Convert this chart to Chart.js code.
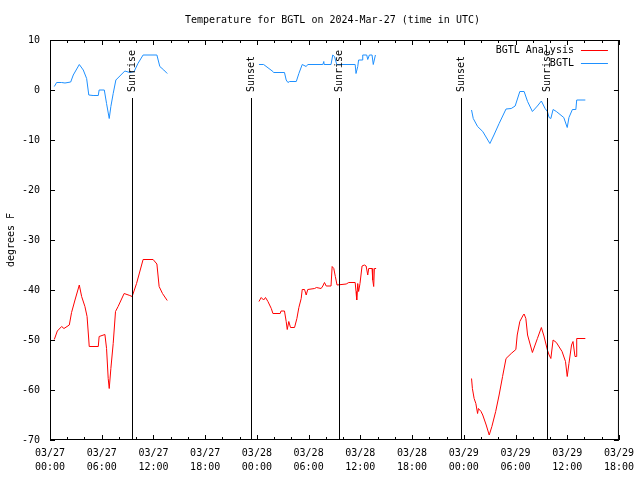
<!DOCTYPE html>
<html>
<head>
<meta charset="utf-8">
<script src="https://cdn.jsdelivr.net/npm/chart.js@4.4.1/dist/chart.umd.min.js"></script>
<style>
  html, body { margin: 0; padding: 0; background: #fff; }
  canvas { display: block; }
</style>
</head>
<body>
<canvas id="tempChart" width="640" height="480"></canvas>
<script>
// x values are hours since 03/27 00:00 UTC
const tickDates = ['03/27', '03/27', '03/27', '03/27', '03/28', '03/28', '03/28', '03/28', '03/29', '03/29', '03/29', '03/29'];
const tickTimes = ['00:00', '06:00', '12:00', '18:00', '00:00', '06:00', '12:00', '18:00', '00:00', '06:00', '12:00', '18:00'];

const eventHours = [9.53, 23.35, 33.58, 47.67, 57.7];
const eventLabels = ['Sunrise', 'Sunset', 'Sunrise', 'Sunset', 'Sunrise'];

// BGTL Analysis (red), null = missing data
const analysisHours = [
  0.5, 0.85, 1.35, 1.62, 2.24, 2.5, 2.9, 3.4, 3.67, 4.05, 4.3, 4.5, 4.55, 5.6, 5.7, 6.37, 6.56, 6.75, 6.87, 7.06,
  7.33, 7.6, 7.9, 8.6, 9.26, 9.53, 10.04, 10.8, 11.96, 12.4, 12.66, 13.05, 13.6,
  18,
  24.24, 24.5, 24.78, 25, 25.28, 25.67, 25.86, 26.7, 26.8, 27.2, 27.4, 27.52, 27.7, 27.9, 28.37, 28.64, 28.87,
  29.14, 29.26, 29.53, 29.72, 29.9, 30.7, 30.9, 31.45, 31.65, 31.84, 32.04, 32.6, 32.73, 32.92, 33.1, 33.3,
  34.36, 34.66, 35.4, 35.5, 35.58, 35.7, 35.8, 35.96, 36.2, 36.47, 36.67, 36.86, 36.97, 37.36, 37.44, 37.55,
  37.63, 37.83,
  43,
  48.9, 49.0, 49.2, 49.4, 49.6, 49.7, 50, 50.2, 50.6, 50.95, 51.26, 51.7, 52.1, 52.5, 52.9, 53.5, 54.04, 54.2,
  54.5, 54.9, 55, 55.2, 55.4, 55.96, 56.54, 57, 57.3, 57.7, 57.9, 58.1, 58.36, 58.74, 59.4, 59.8, 60, 60.2,
  60.5, 60.67, 60.9, 61.06, 61.1, 62.1
];
const analysisTemps = [
  -49.9, -48.2, -47.3, -47.7, -47, -44.5, -42, -39, -41.3, -43.3, -45.3, -50, -51.3, -51.3, -49.3, -48.9, -51.7, -57.7, -59.7, -55.7,
  -50.7, -44.3, -43.3, -40.7, -41.1, -41.3, -38.7, -33.9, -33.9, -34.8, -39.3, -40.7, -42.1,
  null,
  -42.3, -41.5, -42, -41.5, -42.3, -43.7, -44.7, -44.7, -44.2, -44.2, -46.3, -47.9, -46.3, -47.5, -47.5, -45.7, -43.5,
  -41.7, -39.9, -39.9, -41, -39.9, -39.7, -39.5, -39.7, -39.2, -38.5, -39.2, -39.2, -35.3, -35.7, -37.3, -39,
  -38.8, -38.5, -38.5, -40.3, -42, -38.7, -40.3, -38.7, -35.2, -35, -35.2, -37, -35.7, -35.7, -38, -39.3,
  -35.7, -35.7,
  null,
  -57.7, -59.7, -61.7, -62.7, -64.7, -63.7, -64.3, -65, -67, -69, -67.3, -64.3, -61, -57.3, -53.7, -52.7, -51.9, -49,
  -46.3, -45, -44.8, -45.7, -49, -52.5, -49.7, -47.5, -49.2, -52, -53, -53.7, -50, -50.5, -52.3, -54.3, -57.3, -54.7,
  -51, -50.3, -53.3, -53.3, -49.7, -49.7
];

// BGTL observations (blue)
const obsHours = [
  0.5, 0.77, 1.35, 1.74, 2.4, 2.7, 3.4, 3.86, 4.25, 4.5, 5.0, 5.6, 5.7, 6.3, 6.56, 6.87, 7.06, 7.33, 7.64, 8.68,
  9.26, 9.76, 10.2, 10.8, 12.4, 12.74, 13.2, 13.6,
  18,
  24.24, 24.78, 25.86, 25.94, 27.2, 27.4, 27.6, 27.8, 28.57, 28.87, 29.26, 29.72, 29.9, 31.65, 31.76, 31.8,
  32.6, 32.8, 33, 33.27, 35.4, 35.5, 35.7, 35.8, 36.2, 36.28, 36.74, 36.86, 37.05, 37.36, 37.5, 37.75,
  43,
  48.9, 49.1, 49.6, 50.2, 51.03, 51.5, 52.1, 52.9, 53.5, 53.96, 54.5, 55, 55.4, 55.96, 56.54, 57, 57.43, 57.7,
  57.9, 58.1, 58.36, 58.74, 59.6, 60, 60.2, 60.6, 61, 61.1, 62.1
];
const obsTemps = [
  0.7, 1.5, 1.5, 1.4, 1.6, 3, 5.1, 4, 2.3, -1, -1.1, -1.1, 0, 0, -2.7, -5.7, -3.3, -0.7, 2, 3.8,
  3.5, 3.7, 5.3, 7, 7, 4.7, 4, 3.3,
  null,
  5.1, 5.1, 3.7, 3.5, 3.5, 2, 1.5, 1.7, 1.7, 3.3, 5.1, 4.7, 5.1, 5.1, 5.7, 5.1,
  5.1, 7, 6.7, 5.1, 5.1, 3.3, 4.7, 6, 6, 7, 7, 6.1, 7, 7, 5.1, 7,
  null,
  -4, -5.7, -7.3, -8.3, -10.7, -9, -6.7, -3.8, -3.7, -3.2, -0.3, -0.3, -2.3, -4.3, -3.2, -2.2, -3.7, -4.3,
  -5.5, -5.7, -3.9, -4.3, -5.5, -7.5, -5.5, -3.9, -3.9, -2, -2
];

const FONT = '10px "DejaVu Sans Mono", monospace';
const RED = '#ff0000';
const BLUE = 'rgb(30,144,255)';

function toPoints(hours, temps) {
  return hours.map((h, i) => ({ x: h, y: temps[i] }));
}

// gnuplot-style frame: border, inward ticks, sunrise/sunset markers, key, titles
const gnuplotFrame = {
  id: 'gnuplotFrame',
  afterDatasetsDraw(chart) {
    const ctx = chart.ctx;
    const a = chart.chartArea;
    const x = chart.scales.x;
    const y = chart.scales.y;
    ctx.save();
    ctx.strokeStyle = '#000';
    ctx.fillStyle = '#000';
    ctx.lineWidth = 1;
    ctx.font = FONT;

    // sunrise / sunset lines
    eventHours.forEach((h, i) => {
      const px = Math.round(x.getPixelForValue(h)) + 0.5;
      ctx.beginPath();
      ctx.moveTo(px, a.bottom);
      ctx.lineTo(px, a.top + 58);
      ctx.stroke();
      ctx.save();
      ctx.translate(px, a.top + 52);
      ctx.rotate(-Math.PI / 2);
      ctx.textAlign = 'left';
      ctx.textBaseline = 'middle';
      ctx.fillText(eventLabels[i], 0, 0);
      ctx.restore();
    });

    // border
    ctx.strokeRect(a.left + 0.5, a.top + 0.5, a.width - 1, a.height - 1);

    // y ticks, left and right
    ctx.beginPath();
    y.ticks.forEach(t => {
      const py = Math.round(y.getPixelForValue(t.value)) + 0.5;
      ctx.moveTo(a.left, py); ctx.lineTo(a.left + 5, py);
      ctx.moveTo(a.right, py); ctx.lineTo(a.right - 5, py);
    });
    // x ticks, every 2h, longer at 6h
    for (let h = x.min; h <= x.max; h += 2) {
      const px = Math.round(x.getPixelForValue(h)) + 0.5;
      const len = h % 6 === 0 ? 5 : 3;
      ctx.moveTo(px, a.bottom); ctx.lineTo(px, a.bottom - len);
      ctx.moveTo(px, a.top); ctx.lineTo(px, a.top + len);
    }
    ctx.stroke();

    // key
    const rows = [chart.data.datasets[0], chart.data.datasets[1]];
    rows.forEach((ds, i) => {
      const ry = a.top + 10 + i * 13;
      ctx.textAlign = 'right';
      ctx.textBaseline = 'middle';
      ctx.fillStyle = '#000';
      ctx.fillText(ds.label, a.right - 45, ry);
      ctx.strokeStyle = ds.borderColor;
      ctx.beginPath();
      ctx.moveTo(a.right - 38, Math.round(ry) + 0.5);
      ctx.lineTo(a.right - 11, Math.round(ry) + 0.5);
      ctx.stroke();
    });

    // title
    ctx.fillStyle = '#000';
    ctx.textAlign = 'center';
    ctx.textBaseline = 'middle';
    ctx.fillText('Temperature for BGTL on 2024-Mar-27 (time in UTC)', (a.left + a.right) / 2 - 2, 20);

    // y axis title
    ctx.save();
    ctx.translate(11, (a.top + a.bottom) / 2);
    ctx.rotate(-Math.PI / 2);
    ctx.fillText('degrees F', 0, 0);
    ctx.restore();

    ctx.restore();
  }
};

new Chart(document.getElementById('tempChart'), {
  type: 'line',
  data: {
    datasets: [{
      label: 'BGTL Analysis',
      data: toPoints(analysisHours, analysisTemps),
      borderColor: RED,
      borderWidth: 1,
      pointRadius: 0,
      tension: 0,
      spanGaps: false
    }, {
      label: 'BGTL',
      data: toPoints(obsHours, obsTemps),
      borderColor: BLUE,
      borderWidth: 1,
      pointRadius: 0,
      tension: 0,
      spanGaps: false
    }]
  },
  options: {
    responsive: false,
    animation: false,
    devicePixelRatio: 1,
    layout: { padding: { top: 40, right: 20, left: 0, bottom: 0 } },
    plugins: {
      legend: { display: false },
      title: { display: false },
      tooltip: { enabled: false }
    },
    scales: {
      x: {
        type: 'linear',
        min: 0,
        max: 66,
        afterFit(scale) { scale.height = 40; },
        grid: { display: false, drawTicks: false },
        border: { display: false },
        ticks: {
          stepSize: 6,
          autoSkip: false,
          maxRotation: 0,
          padding: 6,
          color: '#000',
          font: { family: '"DejaVu Sans Mono", monospace', size: 10, lineHeight: 1.4 },
          callback: function(value) {
            const i = Math.round(value / 6);
            return [tickDates[i], tickTimes[i]];
          }
        }
      },
      y: {
        min: -70,
        max: 10,
        afterFit(scale) { scale.width = 50; },
        grid: { display: false, drawTicks: false },
        border: { display: false },
        ticks: {
          stepSize: 10,
          padding: 10,
          color: '#000',
          font: { family: '"DejaVu Sans Mono", monospace', size: 10 }
        }
      }
    }
  },
  plugins: [gnuplotFrame]
});
</script>
</body>
</html>
